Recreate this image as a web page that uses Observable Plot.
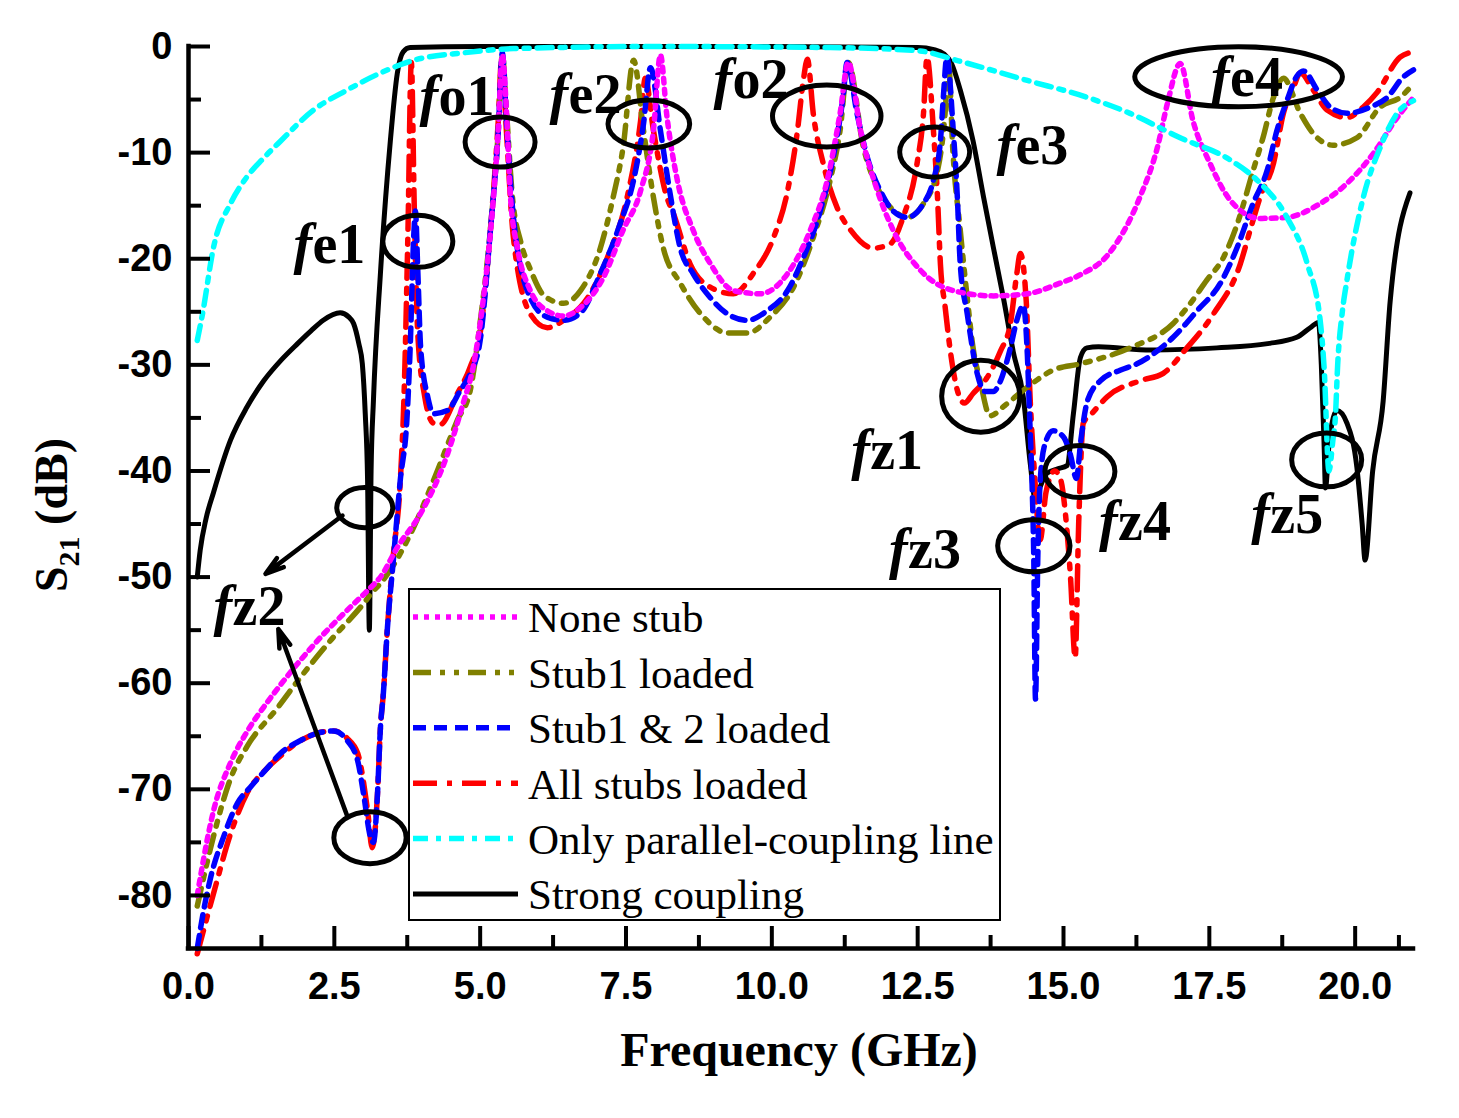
<!DOCTYPE html>
<html><head><meta charset="utf-8">
<script src="https://cdn.jsdelivr.net/npm/d3@7"></script>
<script src="https://cdn.jsdelivr.net/npm/@observablehq/plot@0.6"></script>
<style>
body{margin:0;background:#fff;}
#chart{position:relative;width:1459px;height:1118px;}
</style>
</head><body><div id="chart"></div>
<script>
// ---- data: [frequency GHz, S21 dB] ----
const noneStub = [[0.15,-80],[0.2,-78.4],[0.33,-74.5],[0.43,-72],[0.72,-67.5],[1.0,-64.6],[1.35,-61.8],[1.7,-59.3],[2.26,-55.7],[2.78,-52.8],[3.12,-51],[3.29,-50],[3.58,-47.2],[3.98,-44],[4.44,-38.4],[4.71,-33.6],[4.88,-30.2],[5.05,-24],[5.18,-17.3],[5.31,-7.9],[5.38,-0.8],[5.45,-6],[5.52,-14.2],[5.64,-19],[5.86,-23],[6.15,-24.9],[6.43,-25.4],[6.72,-24.6],[7.11,-21.8],[7.45,-17.3],[7.75,-13.6],[7.97,-7.9],[8.09,-0.8],[8.2,-6.5],[8.38,-12.6],[8.65,-17.3],[8.95,-20.5],[9.34,-23],[9.8,-23.3],[10.27,-21.4],[10.66,-17.3],[10.95,-12.6],[11.17,-6.3],[11.31,-1.5],[11.52,-7.9],[11.81,-13.6],[12.08,-17.3],[12.55,-21.1],[13.11,-23],[13.8,-23.5],[14.38,-23.3],[14.94,-22.3],[15.29,-21.5],[15.75,-19.7],[16.31,-14.2],[16.61,-9.5],[16.78,-5.4],[17.0,-1.6],[17.22,-7],[17.51,-11],[17.86,-14.5],[18.37,-16.2],[18.83,-16.1],[19.4,-14.8],[19.86,-12.9],[20.31,-10.1],[20.72,-6.7],[21.0,-4.8]];
const stub1Loaded = [[0.15,-81],[0.43,-74.4],[0.72,-69],[1.0,-66],[1.53,-62.3],[1.87,-59.8],[2.43,-56],[3.0,-52.5],[3.17,-51.3],[3.29,-50.6],[3.86,-45.3],[4.2,-40.9],[4.61,-35.2],[4.83,-32.4],[5.0,-26],[5.18,-17],[5.31,-8],[5.38,-0.8],[5.45,-6],[5.55,-14],[5.7,-18.5],[5.86,-21],[6.1,-23.5],[6.43,-24.2],[6.72,-23],[7.06,-19],[7.28,-14.2],[7.45,-9.5],[7.63,-1.3],[7.8,-7.9],[7.97,-14.2],[8.14,-19],[8.43,-22.3],[8.83,-25.5],[9.24,-27],[9.58,-27],[9.97,-25.5],[10.37,-22.7],[10.71,-18],[11.0,-12.6],[11.17,-7.9],[11.31,-1.5],[11.57,-9.5],[11.81,-13.3],[12.1,-15.5],[12.32,-16.1],[12.6,-14.8],[12.84,-11.7],[12.97,-6.3],[13.03,-1.5],[13.1,-9.5],[13.23,-17.3],[13.35,-23.7],[13.45,-28.4],[13.57,-31.5],[13.74,-34.8],[14.0,-33.8],[14.38,-32.1],[14.82,-30.5],[15.29,-29.9],[16.14,-28.4],[16.88,-26.1],[17.12,-24.6],[17.46,-22],[17.74,-19.9],[17.98,-16.7],[18.25,-11.7],[18.42,-8.6],[18.6,-4.8],[18.77,-3.0],[19.06,-6.3],[19.28,-8.2],[19.62,-9.3],[20.03,-8.6],[20.43,-5.7],[20.77,-4.8],[21.0,-3.5]];
const stub12Loaded = [[0.15,-85],[0.26,-81.4],[0.38,-78.3],[0.6,-74.5],[0.84,-71.3],[1.06,-69.8],[1.35,-68],[1.58,-66.6],[1.92,-65.4],[2.21,-64.7],[2.49,-64.5],[2.72,-65.4],[2.9,-67.3],[3.0,-70.4],[3.12,-74.5],[3.17,-75],[3.24,-70.4],[3.29,-64.2],[3.34,-61],[3.41,-54.8],[3.51,-48.5],[3.63,-40.9],[3.75,-34.6],[3.8,-28.4],[3.86,-18],[3.89,-15.5],[3.93,-21],[3.98,-28.4],[4.1,-33],[4.2,-34.6],[4.44,-34.3],[4.66,-32.4],[4.83,-30.8],[5.0,-27.7],[5.18,-17],[5.31,-8],[5.38,-0.6],[5.45,-7],[5.57,-16.1],[5.86,-23.7],[6.15,-25.5],[6.43,-25.8],[6.72,-25.1],[7.06,-21.4],[7.4,-16.7],[7.63,-12.6],[7.8,-7.3],[7.92,-2.0],[8.09,-7.9],[8.26,-14],[8.43,-19],[8.65,-21.4],[8.95,-23.7],[9.24,-25.2],[9.58,-25.8],[9.92,-24.9],[10.27,-23],[10.54,-19.9],[10.83,-15.5],[11.05,-10.5],[11.22,-4.8],[11.29,-1.5],[11.46,-6.3],[11.64,-10.5],[11.86,-13.6],[12.08,-15.5],[12.32,-16.1],[12.6,-14.8],[12.77,-12.6],[12.89,-8.9],[12.94,-4.8],[13.0,-1.0],[13.11,-7.9],[13.18,-14.2],[13.23,-20.5],[13.35,-25.2],[13.52,-30.8],[13.65,-32.5],[13.8,-32.5],[13.92,-31.5],[14.09,-28.4],[14.2,-25.8],[14.31,-24.4],[14.38,-29],[14.42,-35],[14.46,-41],[14.49,-48],[14.52,-61.5],[14.56,-48],[14.6,-41],[14.68,-37.5],[14.82,-36.2],[15.0,-36.8],[15.12,-38.5],[15.22,-40.7],[15.3,-37],[15.41,-33.4],[15.63,-31.5],[15.97,-30.5],[16.26,-29.9],[16.88,-27.4],[17.29,-24.9],[17.69,-22.3],[17.98,-18.9],[18.25,-14.8],[18.49,-11.7],[18.66,-7.9],[18.83,-5.1],[19.0,-2.8],[19.11,-2.3],[19.35,-4.1],[19.57,-5.7],[19.86,-6.3],[20.26,-5.7],[20.55,-4.8],[20.82,-2.9],[21.0,-2.2]];
const allStubsLoaded = [[0.15,-85.5],[0.43,-79.8],[0.72,-74.2],[1.0,-70.4],[1.35,-68],[1.63,-66.6],[1.92,-65.4],[2.21,-64.7],[2.49,-64.5],[2.72,-65.2],[2.9,-66.6],[3.07,-72],[3.15,-75.5],[3.24,-70.4],[3.29,-64.2],[3.34,-61],[3.41,-54.8],[3.51,-48],[3.63,-41],[3.7,-32],[3.76,-18],[3.82,-1.5],[3.87,-15],[3.93,-27],[4.05,-33],[4.2,-35.5],[4.32,-35.6],[4.61,-32.7],[4.83,-30.2],[5.0,-27],[5.18,-17],[5.31,-7],[5.37,-1.0],[5.45,-8],[5.57,-18],[5.86,-25.2],[6.15,-26.5],[6.43,-25.8],[6.84,-23.7],[7.18,-19.9],[7.52,-14.2],[7.75,-7],[7.83,-3.0],[7.97,-7.9],[8.2,-14.2],[8.31,-15.7],[8.6,-20.5],[8.95,-22.7],[9.34,-23.3],[9.68,-21.4],[10.03,-18],[10.27,-13.6],[10.44,-7.9],[10.54,-3.2],[10.61,-1.2],[10.71,-6.3],[10.88,-11],[11.12,-15.2],[11.35,-17.3],[11.74,-19],[12.03,-18.6],[12.25,-16.1],[12.49,-11],[12.6,-6.3],[12.66,-1.0],[12.77,-7.9],[12.84,-14.2],[12.89,-20.5],[12.97,-24.5],[13.06,-28.7],[13.18,-32.4],[13.3,-33.6],[13.45,-32.7],[13.69,-31.2],[13.92,-28.7],[14.09,-26.1],[14.2,-21.4],[14.26,-19.5],[14.36,-23.9],[14.43,-33.4],[14.5,-40],[14.6,-46.5],[14.7,-42],[14.85,-40],[14.95,-40.8],[15.05,-45],[15.12,-50],[15.2,-57.6],[15.26,-45],[15.34,-35.5],[15.5,-34.5],[15.75,-33],[16.31,-31.5],[16.71,-30.8],[17.1,-28.5],[17.57,-25.2],[18.03,-20.5],[18.2,-17.3],[18.37,-14.2],[18.6,-11],[18.77,-6.3],[18.94,-3.9],[19.06,-2.5],[19.28,-4.1],[19.52,-6],[19.86,-6.7],[20.14,-5.7],[20.38,-4.3],[20.77,-1.0],[21.0,-0.5]];
const parallelOnly = [[0.15,-27.7],[0.24,-25.2],[0.43,-18.9],[0.72,-14.8],[1.0,-12.3],[1.29,-10.5],[1.58,-8.9],[2.14,-6.0],[2.72,-4.1],[3.29,-2.5],[3.86,-1.3],[4.71,-0.6],[5.57,-0.2],[8.0,0],[11.0,-0.1],[12.5,-0.4],[13.23,-1.4],[14.38,-3.2],[15.41,-4.8],[16.14,-6.3],[17.0,-8.6],[17.86,-10.7],[18.32,-12.6],[18.83,-16.1],[19.18,-20.5],[19.4,-25.8],[19.47,-30.5],[19.55,-40],[19.62,-37],[19.66,-35],[19.7,-30],[19.78,-25],[19.86,-22],[20.14,-14.2],[20.43,-9.5],[20.72,-6.3],[21.0,-5.1]];
const strongCoupling = [[0.15,-50],[0.2,-47.5],[0.3,-44.5],[0.43,-42],[0.72,-37.1],[1.0,-34],[1.29,-31.5],[1.58,-29.6],[1.87,-28],[2.1,-26.8],[2.31,-25.8],[2.6,-25.1],[2.75,-25.5],[2.83,-26.1],[2.92,-28],[2.98,-29.9],[3.03,-34.6],[3.07,-40.9],[3.1,-55],[3.13,-40],[3.17,-33.4],[3.29,-21.4],[3.46,-8.9],[3.58,-2.5],[3.68,-0.5],[3.8,-0.1],[5.0,0],[10.0,0],[12.5,-0.1],[12.78,-0.3],[12.95,-0.7],[13.08,-1.6],[13.23,-4.1],[13.45,-8.9],[13.63,-14.2],[13.8,-19],[13.97,-23.7],[14.14,-28.8],[14.31,-33],[14.43,-39.3],[14.52,-42.8],[14.6,-41.5],[14.72,-40.2],[14.9,-39.8],[15.06,-39.5],[15.17,-34.6],[15.29,-29.3],[15.4,-28.4],[15.6,-28.3],[16.5,-28.6],[17.63,-28.4],[18.5,-28],[19.0,-27.4],[19.23,-26.5],[19.37,-26],[19.42,-30],[19.47,-38],[19.49,-41.6],[19.56,-37],[19.69,-34.3],[19.86,-35.5],[20.03,-39.7],[20.12,-45],[20.17,-48.4],[20.3,-40],[20.48,-33.4],[20.6,-24],[20.94,-13.8]];

const seriesNames = ["None stub","Stub1 loaded","Stub1 & 2 loaded","All stubs loaded","Only parallel-coupling line","Strong coupling"];
const xMajorTicks = [0,2.5,5,7.5,10,12.5,15,17.5,20];
const xMinorTicks = [1.25,3.75,6.25,8.75,11.25,13.75,16.25,18.75,20.75];
const yMajorTicks = [0,-10,-20,-30,-40,-50,-60,-70,-80];
const yMinorTicks = [-5,-15,-25,-35,-45,-55,-65,-75];

// annotation labels: italic "f" + rest, anchored at [GHz, dB] (baseline-left)
const annoNames = ["fe1","fo1","fe2","fo2","fe3","fe4","fz1","fz2","fz3","fz4","fz5"];
const annoX = [1.80,3.96,6.19,9.00,13.85,17.53,11.36,0.43,12.01,15.61,18.22];
const annoY = [-20.36,-6.50,-6.31,-4.90,-11.03,-4.71,-39.77,-54.48,-49.10,-46.47,-45.81];
// annotation ellipses: centre [GHz, dB], radii [GHz, dB]
const ellCx = [3.94,5.35,7.90,10.95,12.80,18.01,13.59,15.29,14.50,19.52,3.03,3.12];
const ellCy = [-18.4,-9.05,-7.35,-6.6,-10.0,-2.9,-33.0,-40.1,-47.1,-39.0,-43.5,-74.6];
const ellRx = [0.60,0.60,0.70,0.93,0.60,1.78,0.67,0.60,0.62,0.60,0.48,0.62];
const ellRy = [2.45,2.36,2.26,2.92,2.36,2.83,3.39,2.45,2.45,2.54,1.89,2.45];
// arrows for fz2
const arrX1 = [2.64,2.72], arrY1 = [-44.2,-72.5], arrX2 = [1.32,1.54], arrY2 = [-49.7,-54.9];

// ---- styles ----
const seriesData = [noneStub, stub1Loaded, stub12Loaded, allStubsLoaded, parallelOnly, strongCoupling];
const seriesStyle = [
  {stroke:"#FF00FF", dash:"5 6", w:5.5},
  {stroke:"#808000", dash:"18 9 5 9 5 9", w:5.5},
  {stroke:"#0000FF", dash:"13 8", w:5.5},
  {stroke:"#FF0000", dash:"24 10 5 10", w:5.5},
  {stroke:"#00FFFF", dash:"15 8 5 8", w:5.5},
  {stroke:"#000000", dash:null, w:5}
];
const drawOrder = [5,3,1,2,0,4];

const tables = seriesData.map((arr, i) => arr.map(([f, db]) => ({f, db, name: seriesNames[i]})));
const annos = annoNames.map((n, i) => ({f0: n[0], rest: n.slice(1), x: annoX[i], y: annoY[i]}));
const arrows = arrX1.map((d, i) => ({x1: arrX1[i], y1: arrY1[i], x2: arrX2[i], y2: arrY2[i]}));

const tickFont = {fontSize: 38, fontWeight: "bold", fontFamily: "'Liberation Sans', Arial, sans-serif"};
const annoFont = {fontSize: 56, fontWeight: "bold", fontFamily: "'Liberation Serif', 'Times New Roman', serif"};

const chart = Plot.plot({
  width: 1459, height: 1118,
  marginLeft: 188, marginRight: 46, marginTop: 46, marginBottom: 170,
  x: {domain: [0, 21], axis: null},
  y: {domain: [-85, 0], axis: null},
  style: {background: "#fff", color: "#000", overflow: "visible"},
  marks: [
    ...drawOrder.map(i => Plot.line(tables[i], {
      x: "f", y: "db", stroke: seriesStyle[i].stroke, strokeWidth: seriesStyle[i].w,
      strokeDasharray: seriesStyle[i].dash, curve: "monotone-x", strokeLinejoin: "round"
    })),
    Plot.ruleX([0], {strokeWidth: 4.5, strokeLinecap: "square"}),
    Plot.ruleY([-85], {strokeWidth: 4.5, strokeLinecap: "square"}),
    Plot.axisY(yMajorTicks, {anchor: "left", tickSize: -22, tickPadding: 38, strokeWidth: 4, label: null,
      tickFormat: d => d === 0 ? "0" : "-" + Math.abs(d), ...tickFont}),
    Plot.axisY(yMinorTicks, {anchor: "left", tickSize: -13, strokeWidth: 4, label: null, tickFormat: () => ""}),
    Plot.axisX(xMajorTicks, {anchor: "bottom", tickSize: -22, tickPadding: 46, strokeWidth: 4, label: null,
      tickFormat: d => d.toFixed(1), ...tickFont}),
    Plot.axisX(xMinorTicks, {anchor: "bottom", tickSize: -13, strokeWidth: 4, label: null, tickFormat: () => ""}),
    Plot.arrow(arrows, {x1: "x1", y1: "y1", x2: "x2", y2: "y2", strokeWidth: 4.5, headLength: 6.5, headAngle: 34, stroke: "#000"}),
    Plot.text(annos, {x: "x", y: "y", text: "f0", textAnchor: "start", lineAnchor: "bottom", fontStyle: "italic", ...annoFont}),
    Plot.text(annos, {x: "x", y: "y", text: "rest", textAnchor: "start", lineAnchor: "bottom", dx: 19, ...annoFont})
  ]
});

document.getElementById("chart").appendChild(chart);

const svg = d3.select(chart);
const sx = chart.scale("x"), sy = chart.scale("y");

// ellipses through the plot's scales
const eg = svg.append("g").attr("fill", "none").attr("stroke", "#000").attr("stroke-width", 5);
ellCx.forEach((cx, i) => {
  const px = sx.apply(cx), py = sy.apply(ellCy[i]);
  eg.append("ellipse").attr("cx", px).attr("cy", py)
    .attr("rx", sx.apply(cx + ellRx[i]) - px)
    .attr("ry", sy.apply(ellCy[i] - ellRy[i]) - py);
});

// axis titles
svg.append("text").attr("x", 799).attr("y", 1066).attr("text-anchor", "middle")
  .attr("font-family", "'Liberation Serif', 'Times New Roman', serif").attr("font-weight", "bold")
  .attr("font-size", 48).text("Frequency (GHz)");
const yl = svg.append("text").attr("transform", "translate(67,515) rotate(-90)").attr("text-anchor", "middle")
  .attr("font-family", "'Liberation Serif', 'Times New Roman', serif").attr("font-weight", "bold").attr("font-size", 46);
yl.append("tspan").text("S");
yl.append("tspan").attr("font-size", 30).attr("dy", 12).text("21");
yl.append("tspan").attr("dy", -12).text(" (dB)");

// legend
const lg = svg.append("g").attr("text-anchor", "start");
lg.append("rect").attr("x", 409).attr("y", 589).attr("width", 591).attr("height", 331)
  .attr("fill", "#fff").attr("stroke", "#000").attr("stroke-width", 2);
seriesNames.forEach((name, i) => {
  const yy = 617 + i * 55.4;
  const st = seriesStyle[i];
  lg.append("line").attr("x1", 413).attr("x2", 518).attr("y1", yy).attr("y2", yy)
    .attr("stroke", st.stroke).attr("stroke-width", st.w).attr("stroke-dasharray", st.dash);
  lg.append("text").attr("x", 528).attr("y", yy).attr("dy", "0.36em").attr("text-anchor", "start")
    .attr("font-family", "'Liberation Serif', 'Times New Roman', serif").attr("font-size", 43).text(name);
});
</script>
</body></html>
